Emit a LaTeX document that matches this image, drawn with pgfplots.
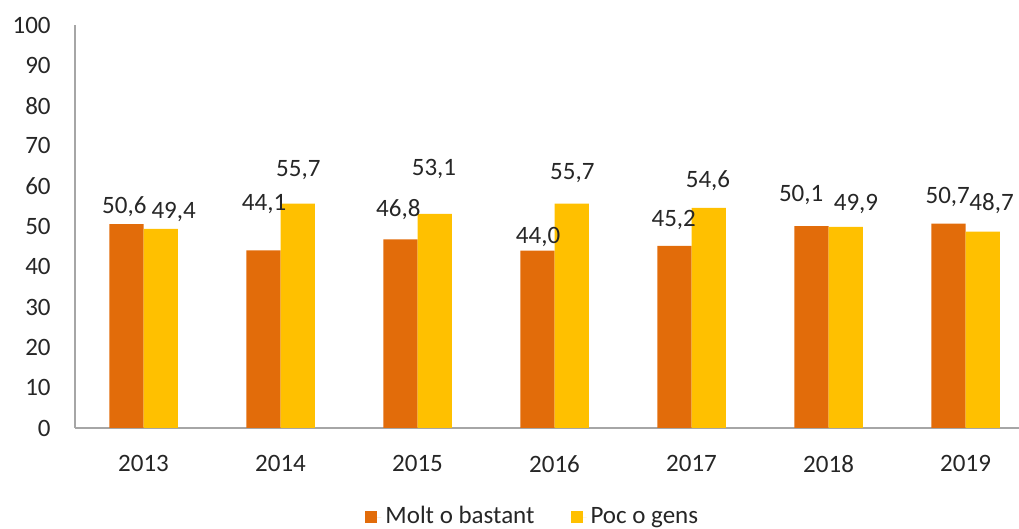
\documentclass[border=0pt]{standalone}
\usepackage{pgfplots}
\pgfplotsset{compat=1.18}
\usetikzlibrary{calc}
\usepackage{fontspec}
\setmainfont{Carlito}
\definecolor{molt}{RGB}{226,108,10}
\definecolor{poc}{RGB}{255,192,0}
\definecolor{txt}{RGB}{38,38,38}
\definecolor{axln}{RGB}{166,166,166}

% x = category index (2013 = 0)
\pgfplotstableread{
x  molt  poc
0  50.6  49.4
1  44.1  55.7
2  46.8  53.1
3  44.0  55.7
4  45.2  54.6
5  50.1  49.9
6  50.7  48.7
}\shares

% data label positions as Excel placed them
\pgfplotstableread{
x     y     label
-0.14 54.8  50,6
0.22  53.6  49,4
0.88  55.6  44,1
1.13  63.9  55,7
1.86  54.1  46,8
2.12  64.3  53,1
2.88  47.4  44,0
3.13  63.3  55,7
3.87  51.6  45,2
4.12  61.3  54,6
4.80  57.8  50,1
5.20  55.6  49,9
5.87  57.3  50,7
6.19  55.6  48,7
}\labels

\begin{document}
\fontsize{12.5}{15}\selectfont
\begin{tikzpicture}
\begin{axis}[
  name=ax,
  scale only axis,
  width=472pt, height=201.5pt,
  xmin=-0.5, xmax=6.39,
  ymin=0, ymax=100,
  axis x line=bottom, axis y line=left,
  axis line style={axln, line width=0.8pt, -},
  tick style={draw=none},
  major tick length=0pt,
  xtick={0,...,6},
  xticklabels={2013,2014,2015,2016,2017,2018,2019},
  ytick={0,10,...,100},
  /pgf/number format/assume math mode=true,
  tick label style={font=\fontsize{12.5}{15}\selectfont, text=txt},
  xticklabel style={anchor=north, inner sep=0pt, yshift=-13.5pt},
  yticklabel style={anchor=east, inner sep=0pt, xshift=-12pt},
  legend style={
    at={(0.486,-0.221)}, anchor=center,
    draw=none, fill=none,
    font=\fontsize{12.5}{15}\selectfont, text=txt,
    /tikz/every even column/.append style={column sep=16pt},
  },
  legend columns=2,
  legend image code/.code={\fill[#1] (0pt,-3pt) rectangle (6pt,3pt);
    \path (0pt,0pt) -- (8pt,0pt);},
]
\addplot[ybar, bar width=0.25, bar shift=-0.125, fill=molt, draw=none]
  table[x=x, y=molt] {\shares};
\addlegendentry{Molt o bastant}
\addplot[ybar, bar width=0.25, bar shift=0.125, fill=poc, draw=none]
  table[x=x, y=poc] {\shares};
\addlegendentry{Poc o gens}

\addplot[only marks, mark=*, mark options={draw opacity=0, fill opacity=0},
  nodes near coords, point meta=explicit symbolic,
  every node near coord/.append style={anchor=center, inner sep=0pt,
    text=txt, text opacity=1, fill opacity=0,
    font=\fontsize{12.5}{15}\selectfont},
  forget plot]
  table[x=x, y=y, meta=label] {\labels};
\end{axis}
\pgfresetboundingbox
\path[use as bounding box]
  ($(ax.south west)+(-37.5pt,-50.5pt)$) rectangle ($(ax.north east)+(0pt,12.5pt)$);
\end{tikzpicture}
\end{document}
